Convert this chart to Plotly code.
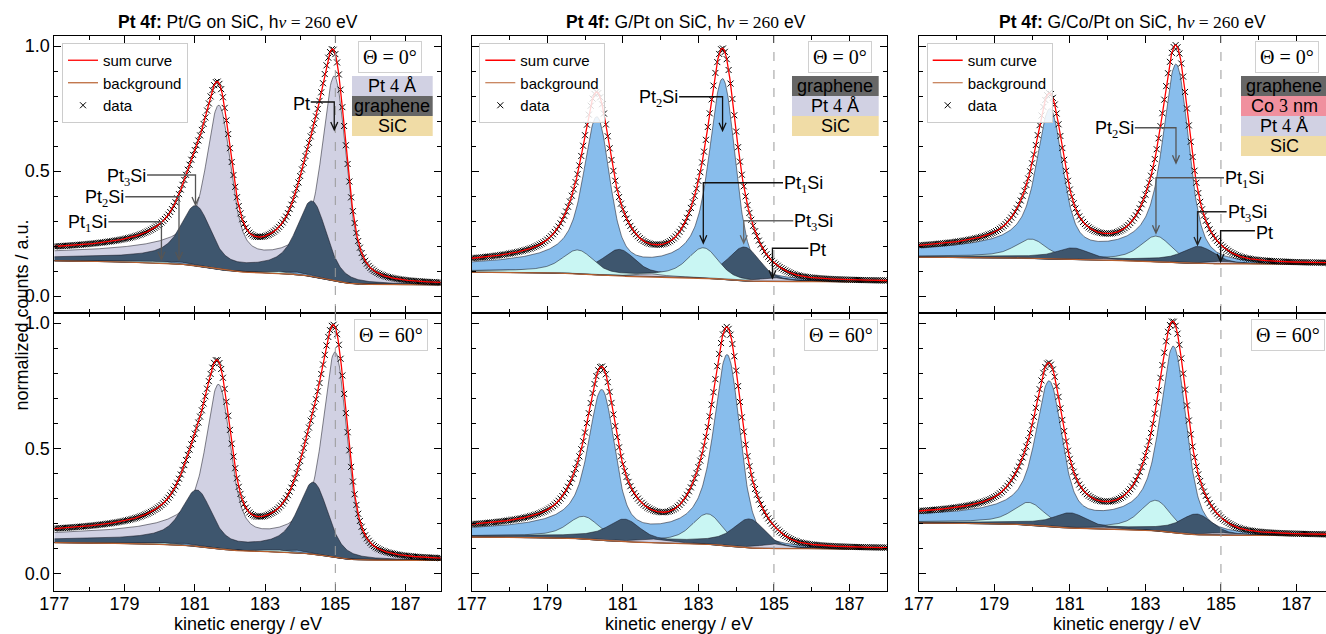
import numpy as np
import plotly.graph_objects as go

W, H = 1326, 634
SANS = "Liberation Sans"
SERIF = "Liberation Serif"

# ---------------- values ----------------
sample_titles = ["Pt/G on SiC", "G/Pt on SiC", "G/Co/Pt on SiC"]
photon_energy = 260
emission_angles = [0, 60]
components = ["Pt", "Pt2Si", "Pt1Si", "Pt3Si"]
comp_colors = ["#d1d1e3", "#88bdec", "#c9f6f3", "#3e566e"]
# line shape of each component: asymmetry, Lorentz HWHM (eV), Gauss sigma (eV)
comp_alpha = [0.12, 0.10, 0.08, 0.10]
comp_gamma = [0.17, 0.17, 0.18, 0.20]
comp_sigma = [0.24, 0.24, 0.30, 0.30]

# [row = angle][col = sample][component]
pos_7_2 = [
    [[184.97, 183.85, 183.30, 184.33], [185.00, 183.64, 183.13, 184.21], [185.00, 183.81, 183.28, 184.40]],
    [[184.99, 183.85, 183.30, 184.37], [185.00, 183.76, 183.24, 184.34], [185.00, 183.74, 183.27, 184.35]],
]
amp_7_2 = [
    [[0.815, 0.010, 0.008, 0.30], [0.015, 0.80, 0.12, 0.135], [0.010, 0.79, 0.10, 0.068]],
    [[0.815, 0.010, 0.008, 0.285], [0.018, 0.76, 0.12, 0.115], [0.010, 0.74, 0.12, 0.082]],
]
pos_5_2 = [
    [[181.68, 180.52, 179.97, 181.02], [181.70, 180.31, 179.80, 180.90], [181.70, 180.47, 179.96, 181.07]],
    [[181.67, 180.52, 179.97, 181.05], [181.70, 180.44, 179.95, 181.03], [181.70, 180.45, 179.90, 181.00]],
]
amp_5_2 = [
    [[0.615, 0.008, 0.006, 0.225], [0.011, 0.60, 0.09, 0.10], [0.008, 0.57, 0.073, 0.045]],
    [[0.615, 0.008, 0.006, 0.21], [0.014, 0.57, 0.085, 0.085], [0.008, 0.55, 0.085, 0.057]],
]
bg_low_ke = [[0.141, 0.095, 0.155], [0.125, 0.147, 0.203]]
bg_high_ke = [[0.045, 0.057, 0.128], [0.054, 0.100, 0.153]]

layer_names = [["Pt 4 Å", "graphene", "SiC"],
               ["graphene", "Pt 4 Å", "SiC"],
               ["graphene", "Co 3 nm", "Pt 4 Å", "SiC"]]
layer_fill = {"Pt 4 Å": "#d1d1e3", "graphene": "#666666", "SiC": "#f0dca6", "Co 3 nm": "#f0909e"}

# peak labels (top row): label, text x, line y, target x, arrow tip y, text side
label_names = [["Pt", "Pt3Si", "Pt2Si", "Pt1Si"],
               ["Pt2Si", "Pt1Si", "Pt3Si", "Pt"],
               ["Pt2Si", "Pt1Si", "Pt3Si", "Pt"]]
label_text_x = [[184.30, 179.64, 179.02, 178.54], [182.49, 185.24, 185.51, 185.91], [182.72, 185.08, 185.15, 185.90]]
label_line_y = [[0.776, 0.484, 0.397, 0.297], [0.797, 0.453, 0.301, 0.191], [0.673, 0.473, 0.337, 0.261]]
label_target_x = [[184.97, 181.02, 180.55, 180.05], [183.64, 183.13, 184.20, 184.96], [183.81, 183.28, 184.38, 184.99]]
label_tip_y = [[0.664, 0.364, 0.144, 0.145], [0.661, 0.211, 0.211, 0.071], [0.531, 0.251, 0.204, 0.137]]
label_side = [["r", "r", "r", "r"], ["r", "l", "l", "l"], ["r", "l", "l", "l"]]
label_color = [["#111111", "#555555", "#555555", "#555555"],
               ["#111111", "#111111", "#666666", "#111111"],
               ["#555555", "#555555", "#222222", "#111111"]]

# ---------------- layout geometry (pixels) ----------------
xdom_px = [(54.3, 440.7), (471.7, 887.3), (918.7, 1326.0)]
ydom_px = [(36.0, 313.0), (313.0, 591.0)]
ppe = (887.3 - 471.7) / 11.0
x_hi = [188.0, 188.0, 177.0 + (1326.0 - 918.7) / ppe]
YR = [-0.068, 1.04]


def px(p):
    return p / W


def py(p):
    return 1 - p / H


def lineshape(a, g, s):
    step = 0.005
    e = np.arange(-16, 16 + step / 2, step)
    ds = np.cos(np.pi * a / 2 + (1 - a) * np.arctan(e / g)) / (g * g + e * e) ** ((1 - a) / 2)
    n = int(round(5 * s / step))
    k = np.arange(-n, n + 1) * step
    ker = np.exp(-0.5 * (k / s) ** 2)
    conv = np.convolve(ds, ker, mode="same")
    i = np.argmax(conv)
    return e - e[i], conv / conv[i]


shapes_ls = [lineshape(comp_alpha[i], comp_gamma[i], comp_sigma[i]) for i in range(4)]


def peak(x, x0, amp, shp):
    e, p = shp
    return amp * np.interp(x - x0, e, p)


def sub_label(name):
    if name == "Pt":
        return "Pt"
    d = name[2]
    return f"Pt<sub><span style=\"font-family:{SERIF}\">{d}</span></sub>Si"


x = np.round(np.arange(177.0, 188.0 + 1e-9, 0.01), 4)
dx = 0.01

fig = go.Figure()
layout_axes = {}
shapes = []
annotations = []

for r in range(2):
    for c in range(3):
        idx = r * 3 + c + 1
        xa = "x" if idx == 1 else f"x{idx}"
        ya = "y" if idx == 1 else f"y{idx}"
        comps = []
        for k in range(4):
            v = peak(x, pos_7_2[r][c][k], amp_7_2[r][c][k], shapes_ls[k]) + \
                peak(x, pos_5_2[r][c][k], amp_5_2[r][c][k], shapes_ls[k])
            comps.append(v)
        total = np.sum(comps, axis=0)
        cum = np.cumsum(total[::-1])[::-1] * dx
        bg = bg_high_ke[r][c] + (bg_low_ke[r][c] - bg_high_ke[r][c]) * cum / cum[0]
        summ = bg + total

        order = np.argsort([-(amp_7_2[r][c][k] + amp_5_2[r][c][k]) for k in range(4)])
        xs = x[::2]
        for k in order:
            top = (bg + comps[k])[::2]
            fig.add_trace(go.Scatter(
                x=np.concatenate([xs, xs[::-1]]), y=np.concatenate([top, bg[::2][::-1]]),
                fill="toself", fillcolor=comp_colors[k], mode="lines",
                line=dict(color="rgba(20,20,30,0.65)", width=0.8),
                showlegend=False, hoverinfo="skip", xaxis=xa, yaxis=ya))
        leg = "legend" if c == 0 else f"legend{c + 1}"
        show = (r == 0)
        fig.add_trace(go.Scatter(x=x, y=bg, mode="lines", line=dict(color="#b8602f", width=1.2),
                                 name="background", legendrank=2, showlegend=show, legend=leg,
                                 xaxis=xa, yaxis=ya))
        fig.add_trace(go.Scatter(x=x[::5], y=summ[::5], mode="markers",
                                 marker=dict(symbol="x-thin-open", size=6, color="black",
                                             line=dict(color="black", width=1)),
                                 name="data", legendrank=3, showlegend=show, legend=leg,
                                 xaxis=xa, yaxis=ya))
        fig.add_trace(go.Scatter(x=x, y=summ, mode="lines", line=dict(color="#ff0000", width=1.3),
                                 name="sum curve", legendrank=1, showlegend=show, legend=leg,
                                 xaxis=xa, yaxis=ya))

        common = dict(showline=True, linecolor="black", linewidth=1, ticks="inside",
                      tickcolor="black", tickwidth=1, ticklen=7, showgrid=False, zeroline=False,
                      automargin=False,
                      tickfont=dict(family=SANS, size=18, color="black"))
        xkey = "xaxis" if idx == 1 else f"xaxis{idx}"
        ykey = "yaxis" if idx == 1 else f"yaxis{idx}"
        layout_axes[xkey] = dict(common, domain=[px(xdom_px[c][0]), px(xdom_px[c][1])],
                                 range=[177, x_hi[c]], anchor=ya, mirror="ticks",
                                 tick0=177, dtick=2, showticklabels=(r == 1),
                                 ticklabelstandoff=-4,
                                 minor=dict(ticks="inside", ticklen=4, tickwidth=1, tickcolor="black",
                                            dtick=1, tick0=177, showgrid=False))
        layout_axes[ykey] = dict(common, domain=[py(ydom_px[r][1]), py(ydom_px[r][0])],
                                 range=YR, anchor=xa, mirror=("ticks" if c < 2 else False),
                                 tick0=0, dtick=0.5, tickformat=".1f", showticklabels=(c == 0),
                                 minor=dict(ticks="inside", ticklen=4, tickwidth=1, tickcolor="black",
                                            dtick=0.1, tick0=0, showgrid=False))
        # dashed reference line at 185 eV
        shapes.append(dict(type="line", xref=xa, yref=f"{ya} domain", x0=185, x1=185, y0=0, y1=1,
                           line=dict(color="#9a9a9a", width=1, dash="dash"), layer="above"))
        # angle box
        bx = [390.0, 839.8, 1286.8] if r == 0 else [391.3, 840.5, 1288.0]
        byc = 56.8 if r == 0 else 334.5
        annotations.append(dict(xref="paper", yref="paper", x=px(bx[c]), y=py(byc),
                                xanchor="center", yanchor="middle", showarrow=False,
                                text=f"Θ = {emission_angles[r]}°",
                                font=dict(family=SERIF, size=20, color="black"),
                                bgcolor="white", bordercolor="#d0d0d0", borderwidth=1, borderpad=4))

        if r == 0:
            # layer stack
            lx = [(352.0, 432.7), (792.0, 878.7), (1241.0, 1327.0)][c]
            for j, nm in enumerate(layer_names[c]):
                y0 = 76 + 20 * j
                shapes.append(dict(type="rect", xref="paper", yref="paper", x0=px(lx[0]), x1=px(lx[1]),
                                   y0=py(y0 + 20), y1=py(y0), fillcolor=layer_fill[nm], line=dict(width=0),
                                   layer="above"))
                t = nm.replace("4", f"<span style=\"font-family:{SERIF}\">4</span>").replace(
                    "3", f"<span style=\"font-family:{SERIF}\">3</span>")
                annotations.append(dict(xref="paper", yref="paper", x=px((lx[0] + lx[1]) / 2),
                                        y=py(y0 + 10), xanchor="center", yanchor="middle",
                                        showarrow=False, text=t,
                                        font=dict(family=SANS, size=18, color="black")))
            # peak labels with elbow arrows
            ev_dx = 3.5 / ppe if c > 0 else 3.5 / ((440.7 - 54.3) / 11.0)
            dy = 8 * (YR[1] - YR[0]) / 277.0
            for j, nm in enumerate(label_names[c]):
                tx, ly = label_text_x[c][j], label_line_y[c][j]
                tg, tip = label_target_x[c][j], label_tip_y[c][j]
                col = label_color[c][j]
                path = (f"M {tx},{ly} L {tg},{ly} L {tg},{tip} "
                        f"M {tg - ev_dx},{tip + dy} L {tg},{tip} L {tg + ev_dx},{tip + dy}")
                shapes.append(dict(type="path", xref=xa, yref=ya, path=path,
                                   line=dict(color=col, width=1.3), layer="above"))
                annotations.append(dict(xref=xa, yref=ya, x=tx, y=ly,
                                        xanchor=("right" if label_side[c][j] == "r" else "left"),
                                        yanchor="middle", showarrow=False, text=sub_label(nm),
                                        font=dict(family=SANS, size=18, color="black"),
                                        borderpad=0, yshift=-2))

# titles
title_cx = [238.0, 685.5, 1132.5]
xtitle_cx = [247.5, 679.5, 1126.6]
for c in range(3):
    annotations.append(dict(xref="paper", yref="paper", x=px(title_cx[c]), y=py(22),
                            xanchor="center", yanchor="middle", showarrow=False,
                            text=(f"<b>Pt 4f:</b> {sample_titles[c]}, h<span style=\"font-family:{SERIF}\">"
                                  f"<i>ν</i> = {photon_energy}</span> eV"),
                            font=dict(family=SANS, size=17.5, color="black")))
    annotations.append(dict(xref="paper", yref="paper", x=px(xtitle_cx[c]),
                            y=py(624), xanchor="center", yanchor="middle", showarrow=False,
                            text="kinetic energy / eV", font=dict(family=SANS, size=18, color="black")))

annotations.append(dict(xref="paper", yref="paper", x=px(21), y=py(315.5), xanchor="center",
                        yanchor="middle", showarrow=False, textangle=-90,
                        text="normalized counts / a.u.", font=dict(family=SANS, size=18, color="black")))

legend_style = dict(font=dict(family=SANS, size=15, color="black"), bgcolor="rgba(255,255,255,0.85)",
                    bordercolor="#cccccc", borderwidth=1, xanchor="left", yanchor="top",
                    itemwidth=30, tracegroupgap=0)
leg_x = [62.0, 479.3, 926.7]

fig.update_layout(
    width=W, height=H, margin=dict(l=0, r=0, t=0, b=0, autoexpand=False),
    paper_bgcolor="white", plot_bgcolor="white",
    shapes=shapes, annotations=annotations,
    legend=dict(legend_style, x=px(leg_x[0]), y=py(43)),
    legend2=dict(legend_style, x=px(leg_x[1]), y=py(43)),
    legend3=dict(legend_style, x=px(leg_x[2]), y=py(43)),
    **layout_axes,
)

fig.write_html("out.html")
